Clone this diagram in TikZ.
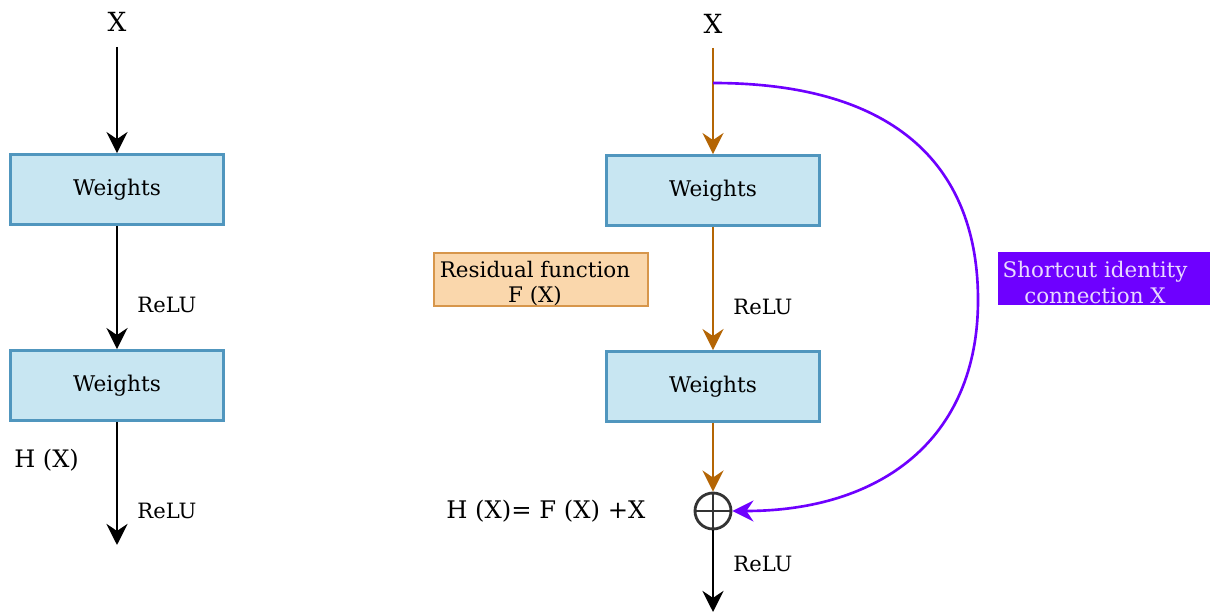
\documentclass[tikz,border=0pt]{standalone}
\usepackage{fontspec}
\setmainfont{DejaVu Serif}
\usepackage{tikz}
\usetikzlibrary{arrows.meta}
\definecolor{boxfill}{RGB}{200,230,242}
\definecolor{boxline}{RGB}{80,150,190}
\definecolor{resfill}{RGB}{250,215,172}
\definecolor{resline}{RGB}{215,150,75}
\definecolor{shortcut}{RGB}{110,0,255}
\definecolor{flow}{RGB}{180,101,4}

\begin{document}
\begin{tikzpicture}[x=0.02cm,y=-0.02cm,
  weights/.style={draw=boxline,line width=1.6pt,fill=boxfill,minimum width=4.26cm,minimum height=1.40cm,font=\fontsize{12.3}{14}\selectfont},
  lbl/.style={font=\fontsize{12}{14}\selectfont,inner sep=0pt},
  flowarrow/.style={line width=1.7pt,-{Stealth[length=12pt,width=12pt,inset=4pt]}}]
\useasboundingbox (0,0) rectangle (1211,615);

% plain block
\node[lbl,font=\fontsize{15}{17}\selectfont] (xL) at (117,22) {X};
\node[weights] (wL1) at (117,189.5) {Weights};
\node[weights] (wL2) at (117,385.5) {Weights};
\coordinate (inL) at (117,47);
\coordinate (outL) at (117,545);
\draw[flowarrow] (inL) -- (wL1.north);
\draw[flowarrow] (wL1.south) -- node[lbl,anchor=west,pos=0.64,xshift=0.38cm] () {ReLU} (wL2.north);
\draw[flowarrow] (wL2.south) -- node[lbl,anchor=west,pos=0.72,xshift=0.38cm] () {ReLU} (outL);
\node[lbl,anchor=west,font=\fontsize{13.7}{15}\selectfont] (hL) at (14,460) {H (X)};

% residual block
\node[lbl,font=\fontsize{15}{17}\selectfont] (xR) at (713,24) {X};
\coordinate (inR) at (713,48);
\coordinate (split) at (713,83);
\node[weights] (wR1) at (713,190.5) {Weights};
\node[weights] (wR2) at (713,386.5) {Weights};
\node[draw=black!80,line width=1.6pt,circle,minimum size=0.72cm,inner sep=0pt] (sum) at (713,511) {};
\draw[black!80,line width=1.6pt] (sum.north) -- (sum.south) (sum.west) -- (sum.east);
\coordinate (outR) at (713,612);
\draw[flow,line width=1.6pt] (inR) -- (split);
\draw[flowarrow,flow,line width=1.6pt] (split) -- (wR1.north);
\draw[flowarrow,flow,line width=1.6pt] (wR1.south) -- node[lbl,black,anchor=west,pos=0.65,xshift=0.38cm] () {ReLU} (wR2.north);
\draw[flowarrow,flow,line width=1.6pt] (wR2.south) -- (sum.north);
\draw[flowarrow] (sum.south) -- node[lbl,anchor=west,pos=0.41,xshift=0.38cm] () {ReLU} (outR);
\draw[shortcut,line width=1.5pt,-{Stealth[length=12pt,width=12pt,inset=4pt]}] (split) .. controls (900,83) and (978,170) .. (978,300) .. controls (978,440) and (880,511) .. (sum.east);

\node[lbl,anchor=west,font=\fontsize{13.8}{15}\selectfont] (hR) at (446,511) {H (X)= F (X) +X};
\node[draw=resline,line width=1.2pt,fill=resfill,minimum width=4.28cm,minimum height=1.06cm,
  label={[align=center,xshift=-0.12cm,yshift=-0.08cm,font=\fontsize{12.2}{14.4}\selectfont]center:Residual function\\F (X)}] (res) at (541,279.5) {};
\node[fill=shortcut,minimum width=4.24cm,minimum height=1.06cm,
  label={[align=center,xshift=-0.18cm,yshift=-0.08cm,text=white!85!shortcut,font=\fontsize{12.2}{14.4}\selectfont]center:Shortcut identity\\connection X}] (sc) at (1104,278.5) {};
\end{tikzpicture}
\end{document}
